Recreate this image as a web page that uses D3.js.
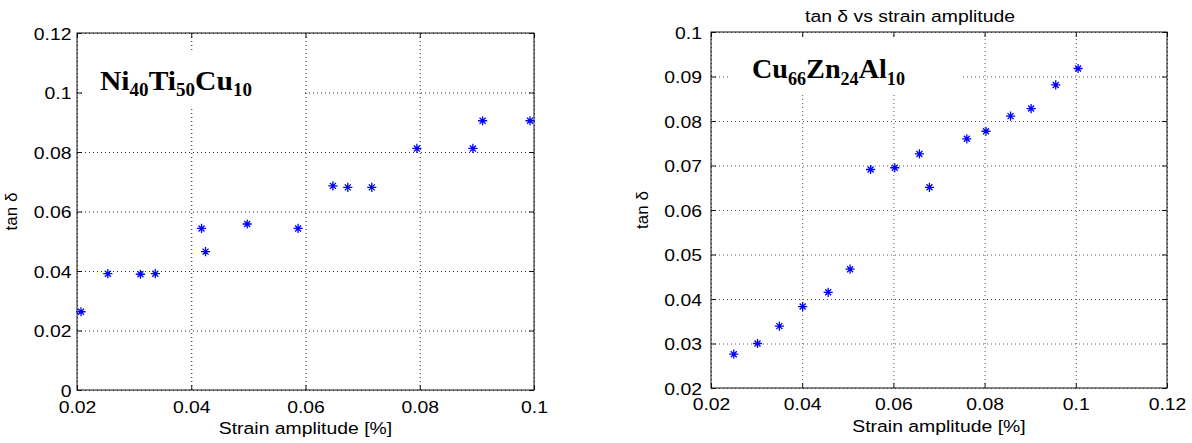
<!DOCTYPE html>
<html><head><meta charset="utf-8">
<script src="https://cdn.jsdelivr.net/npm/d3@7"></script>
<style>body{margin:0;background:#fff} svg{display:block}</style>
</head><body>
<svg id="chart" width="1192" height="443"></svg>
<script>
// ---- data ----
const leftStrain = [0.0207,0.0254,0.0311,0.0337,0.0418,0.0425,0.0498,0.0587,0.0648,0.0674,0.0716,0.0795,0.0893,0.0910,0.0993];
const leftTanDelta = [0.0263,0.0391,0.0389,0.0391,0.0543,0.0465,0.0558,0.0543,0.0686,0.0681,0.0681,0.0812,0.0812,0.0905,0.0905];
const rightStrain = [0.0250,0.0302,0.0350,0.0401,0.0457,0.0505,0.0550,0.0603,0.0657,0.0679,0.0761,0.0803,0.0857,0.0902,0.0956,0.1005];
const rightTanDelta = [0.0276,0.0300,0.0339,0.0383,0.0415,0.0467,0.0691,0.0695,0.0726,0.0651,0.0760,0.0777,0.0811,0.0828,0.0881,0.0918];

const leftXTicks = [0.02,0.04,0.06,0.08,0.1];
const leftXTickLabels = ["0.02","0.04","0.06","0.08","0.1"];
const leftYTicks = [0,0.02,0.04,0.06,0.08,0.1,0.12];
const leftYTickLabels = ["0","0.02","0.04","0.06","0.08","0.1","0.12"];
const rightXTicks = [0.02,0.04,0.06,0.08,0.1,0.12];
const rightXTickLabels = ["0.02","0.04","0.06","0.08","0.1","0.12"];
const rightYTicks = [0.02,0.03,0.04,0.05,0.06,0.07,0.08,0.09,0.1];
const rightYTickLabels = ["0.02","0.03","0.04","0.05","0.06","0.07","0.08","0.09","0.1"];

const xLabelText = "Strain amplitude [%]";
const yLabelText = "tan δ";
const rightTitle = "tan δ vs strain amplitude";
const leftAlloy = [["Ni","40"],["Ti","50"],["Cu","10"]];
const rightAlloy = [["Cu","66"],["Zn","24"],["Al","10"]];

// ---- drawing ----
const svg = d3.select("#chart");
const SANS = "'Liberation Sans', Arial, Helvetica, sans-serif";
const SERIF = "'Liberation Serif', 'Times New Roman', serif";
const SX = 1.14;

function asterisk(a, b) {
  return `M${-a},0L${a},0M0,${-a}L0,${a}M${-b},${-b}L${b},${b}M${-b},${b}L${b},${-b}`;
}

function panel(o) {
  const x = d3.scaleLinear().domain(o.xDomain).range([o.left, o.right]);
  const y = d3.scaleLinear().domain(o.yDomain).range([o.bottom, o.top]);
  const W = o.right - o.left, H = o.bottom - o.top;
  const g = svg.append("g");

  // grid
  g.append("g").attr("transform", `translate(0,${o.bottom})`)
    .call(d3.axisBottom(x).tickValues(o.xTicks).tickSize(-H).tickFormat(""))
    .call(s => { s.select(".domain").remove();
      s.selectAll("line").attr("stroke", o.gridColor).attr("stroke-dasharray", "1,3"); });
  g.append("g").attr("transform", `translate(${o.left},0)`)
    .call(d3.axisLeft(y).tickValues(o.yTicks).tickSize(-W).tickFormat(""))
    .call(s => { s.select(".domain").remove();
      s.selectAll("line").attr("stroke", o.gridColor).attr("stroke-dasharray", "1,3"); });

  // white annotation box hiding grid
  g.append("rect").attr("x", o.note.x).attr("y", o.note.y)
    .attr("width", o.note.w).attr("height", o.note.h).attr("fill", "#fff");

  // box
  g.append("rect").attr("x", o.left).attr("y", o.top).attr("width", W).attr("height", H)
    .attr("fill", "none").attr("stroke", "#111").attr("stroke-width", 1);

  const styleAxis = s => { s.select(".domain").remove(); s.selectAll("line").attr("stroke", "#111"); };

  // bottom axis with labels
  g.append("g").attr("transform", `translate(0,${o.bottom})`)
    .call(d3.axisBottom(x).tickValues(o.xTicks).tickSizeInner(-5).tickSizeOuter(0)
      .tickFormat((d, i) => o.xLabels[i]))
    .call(styleAxis)
    .call(s => s.selectAll("text").attr("y", o.xTickBase).attr("dy", null)
      .attr("font-family", SANS).attr("font-size", 17).attr("fill", "#000")
      .attr("transform", `scale(${SX},1)`));
  // left axis with labels
  g.append("g").attr("transform", `translate(${o.left},0)`)
    .call(d3.axisLeft(y).tickValues(o.yTicks).tickSizeInner(-5).tickSizeOuter(0)
      .tickFormat((d, i) => o.yLabels[i]))
    .call(styleAxis)
    .call(s => s.selectAll("text").attr("x", 0).attr("dy", "0.36em")
      .attr("font-family", SANS).attr("font-size", 17).attr("fill", "#000")
      .attr("transform", `translate(${-o.yTickGap},0) scale(${SX},1)`));
  // top and right ticks
  g.append("g").attr("transform", `translate(0,${o.top})`)
    .call(d3.axisTop(x).tickValues(o.xTicks).tickSizeInner(-5).tickSizeOuter(0).tickFormat(""))
    .call(styleAxis);
  g.append("g").attr("transform", `translate(${o.right},0)`)
    .call(d3.axisRight(y).tickValues(o.yTicks).tickSizeInner(-5).tickSizeOuter(0).tickFormat(""))
    .call(styleAxis);

  // alloy label
  const t = g.append("text").attr("x", o.alloyX).attr("y", o.alloyY)
    .attr("font-family", SERIF).attr("font-weight", "bold").attr("font-size", 28).attr("fill", "#000");
  o.alloy.forEach(([el, sub], i) => {
    t.append("tspan").attr("dy", i === 0 ? 0 : -o.subDy).text(el);
    t.append("tspan").attr("font-size", 18).attr("dy", o.subDy).text(sub);
  });
  const tw = t.node().getComputedTextLength();
  const k = o.alloyW / tw;
  t.attr("transform", `translate(${o.alloyX},0) scale(${k},1) translate(${-o.alloyX},0)`);

  // x label
  const cx = (o.left + o.right) / 2;
  g.append("text").attr("x", cx).attr("y", o.xLabelY).attr("text-anchor", "middle")
    .attr("font-family", SANS).attr("font-size", 17).attr("fill", "#000")
    .attr("transform", `translate(${cx},0) scale(${SX},1) translate(${-cx},0)`)
    .text(xLabelText);
  // y label
  g.append("text").attr("transform", `translate(${o.yLabelX},${(o.top + o.bottom) / 2}) rotate(-90)`)
    .attr("text-anchor", "middle").attr("font-family", SANS).attr("font-size", 17).attr("fill", "#000")
    .text(yLabelText);

  // markers
  g.append("g").selectAll("path").data(o.xs.map((v, i) => [v, o.ys[i]])).join("path")
    .attr("transform", d => `translate(${x(d[0])},${y(d[1])})`)
    .attr("d", asterisk(4.6, 3))
    .attr("fill", "none").attr("stroke", "#0000ff").attr("stroke-width", 1.3);
}

panel({
  left: 77, right: 534, top: 33, bottom: 390,
  xDomain: [0.02, 0.1], yDomain: [0, 0.12],
  xTicks: leftXTicks, xLabels: leftXTickLabels, yTicks: leftYTicks, yLabels: leftYTickLabels,
  gridColor: "#222", yTickGap: 5.5, xTickBase: 23,
  note: {x: 82, y: 53, w: 221, h: 55},
  alloy: leftAlloy, alloyX: 100, alloyY: 90, alloyW: 152, subDy: 6,
  xLabelY: 434, yLabelX: 17,
  xs: leftStrain, ys: leftTanDelta
});

panel({
  left: 711, right: 1167, top: 32, bottom: 388,
  xDomain: [0.02, 0.12], yDomain: [0.02, 0.1],
  xTicks: rightXTicks, xLabels: rightXTickLabels, yTicks: rightYTicks, yLabels: rightYTickLabels,
  gridColor: "#555", yTickGap: 9, xTickBase: 22,
  note: {x: 730, y: 38, w: 230, h: 57},
  alloy: rightAlloy, alloyX: 752, alloyY: 78, alloyW: 153, subDy: 7,
  xLabelY: 432, yLabelX: 648,
  xs: rightStrain, ys: rightTanDelta
});

// right title
svg.append("text").attr("x", 910).attr("y", 22).attr("text-anchor", "middle")
  .attr("font-family", SANS).attr("font-size", 17).attr("fill", "#000")
  .attr("transform", `translate(910,0) scale(${SX},1) translate(-910,0)`)
  .text(rightTitle);
</script>
</body></html>
